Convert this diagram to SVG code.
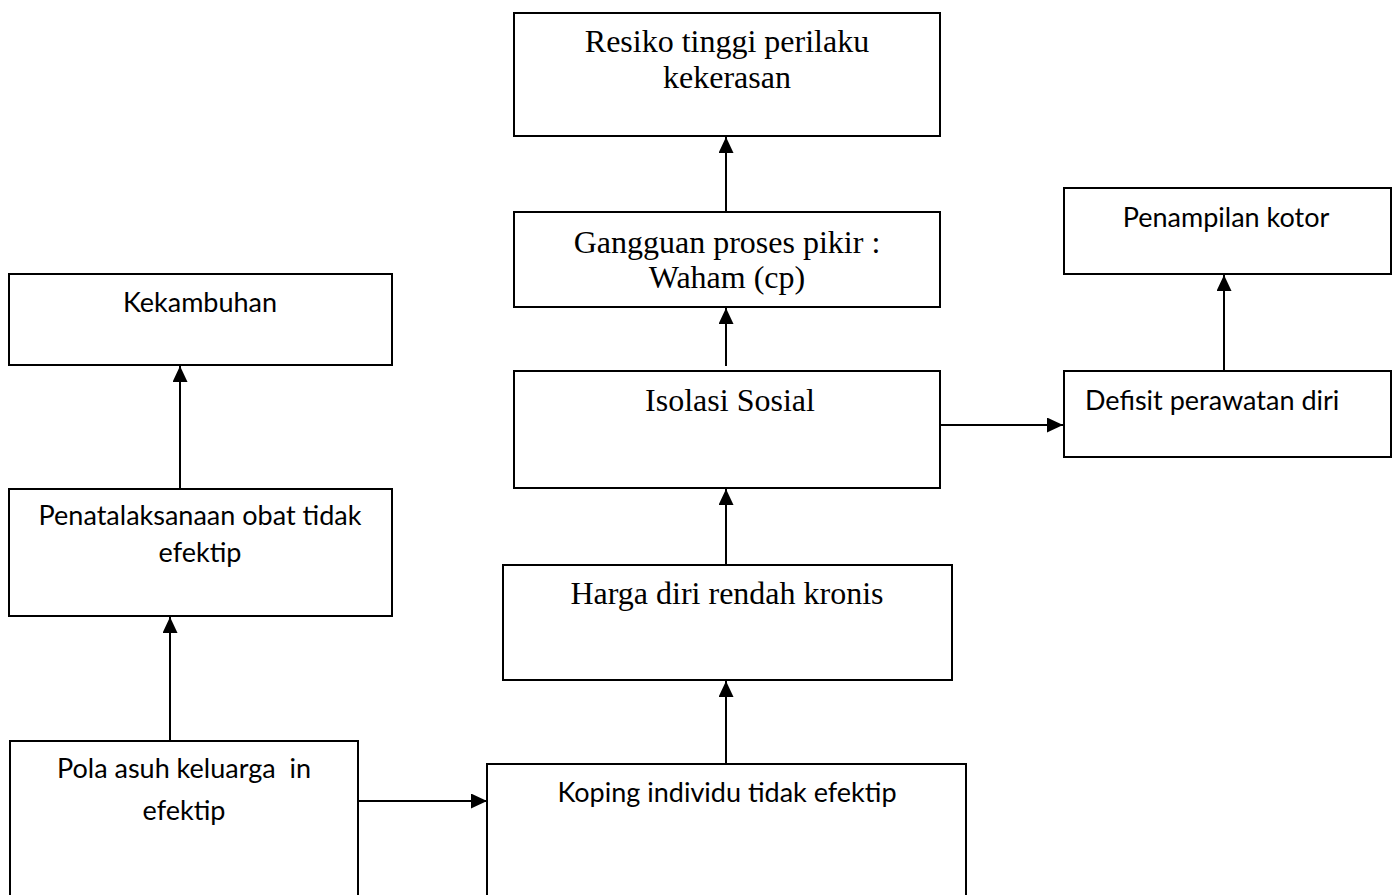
<svg xmlns="http://www.w3.org/2000/svg" width="1393" height="895" viewBox="0 0 1393 895">
<style>
.box{fill:#fff;stroke:#000;stroke-width:2}
.ser{font-family:"Liberation Serif","Times New Roman",serif;font-size:32px;fill:#000;text-anchor:middle}
.san{font-family:Lato,"Liberation Sans",sans-serif;font-size:27px;fill:#000;text-anchor:middle}
.con{stroke:#000;stroke-width:2;fill:none;marker-end:url(#ah)}
</style>
<defs>
<marker id="ah" markerUnits="userSpaceOnUse" markerWidth="16" markerHeight="16" refX="16" refY="7.5" orient="auto">
<path d="M0,0 L16,7.5 L0,15 Z" fill="#000"/>
</marker>
</defs>
<rect width="1393" height="895" fill="#fff"/>
<g id="n-resiko"><rect class="box" x="514" y="13" width="426" height="123"/>
<text class="ser" x="727" y="52">Resiko tinggi perilaku</text><text class="ser" x="727" y="88">kekerasan</text></g>
<g id="n-gangguan"><rect class="box" x="514" y="212" width="426" height="95"/>
<text class="ser" x="727" y="253">Gangguan proses pikir :</text><text class="ser" x="727" y="288">Waham (cp)</text></g>
<g id="n-isolasi"><rect class="box" x="514" y="371" width="426" height="117"/>
<text class="ser" x="730" y="411">Isolasi Sosial</text></g>
<g id="n-harga"><rect class="box" x="503" y="565" width="449" height="115"/>
<text class="ser" x="727" y="604">Harga diri rendah kronis</text></g>
<g id="n-koping"><rect class="box" x="487" y="764" width="479" height="150"/>
<text class="san" x="727" y="802">Koping individu tidak efektip</text></g>
<g id="n-pola"><rect class="box" x="10" y="741" width="348" height="170"/>
<text class="san" x="184" y="778" xml:space="preserve">Pola asuh keluarga  in</text><text class="san" x="184" y="820">efektip</text></g>
<g id="n-penata"><rect class="box" x="9" y="489" width="383" height="127"/>
<text class="san" x="200" y="525">Penatalaksanaan obat tidak</text><text class="san" x="200" y="562">efektip</text></g>
<g id="n-kekambuhan"><rect class="box" x="9" y="274" width="383" height="91"/>
<text class="san" x="200" y="312">Kekambuhan</text></g>
<g id="n-penampilan"><rect class="box" x="1064" y="188" width="327" height="86"/>
<text class="san" x="1226" y="227">Penampilan kotor</text></g>
<g id="n-defisit"><rect class="box" x="1064" y="371" width="327" height="86"/>
<text class="san" x="1085" y="410" style="text-anchor:start">Defisit perawatan diri</text></g>
<g id="connectors">
<line class="con" x1="726" y1="212" x2="726" y2="137"/>
<line class="con" x1="726" y1="366" x2="726" y2="308"/>
<line class="con" x1="726" y1="565" x2="726" y2="489"/>
<line class="con" x1="726" y1="764" x2="726" y2="681"/>
<line class="con" x1="940" y1="425" x2="1063" y2="425"/>
<line class="con" x1="1224" y1="371" x2="1224" y2="275"/>
<line class="con" x1="180" y1="489" x2="180" y2="366"/>
<line class="con" x1="170" y1="741" x2="170" y2="617"/>
<line class="con" x1="358" y1="801" x2="487" y2="801"/>
</g>
</svg>
